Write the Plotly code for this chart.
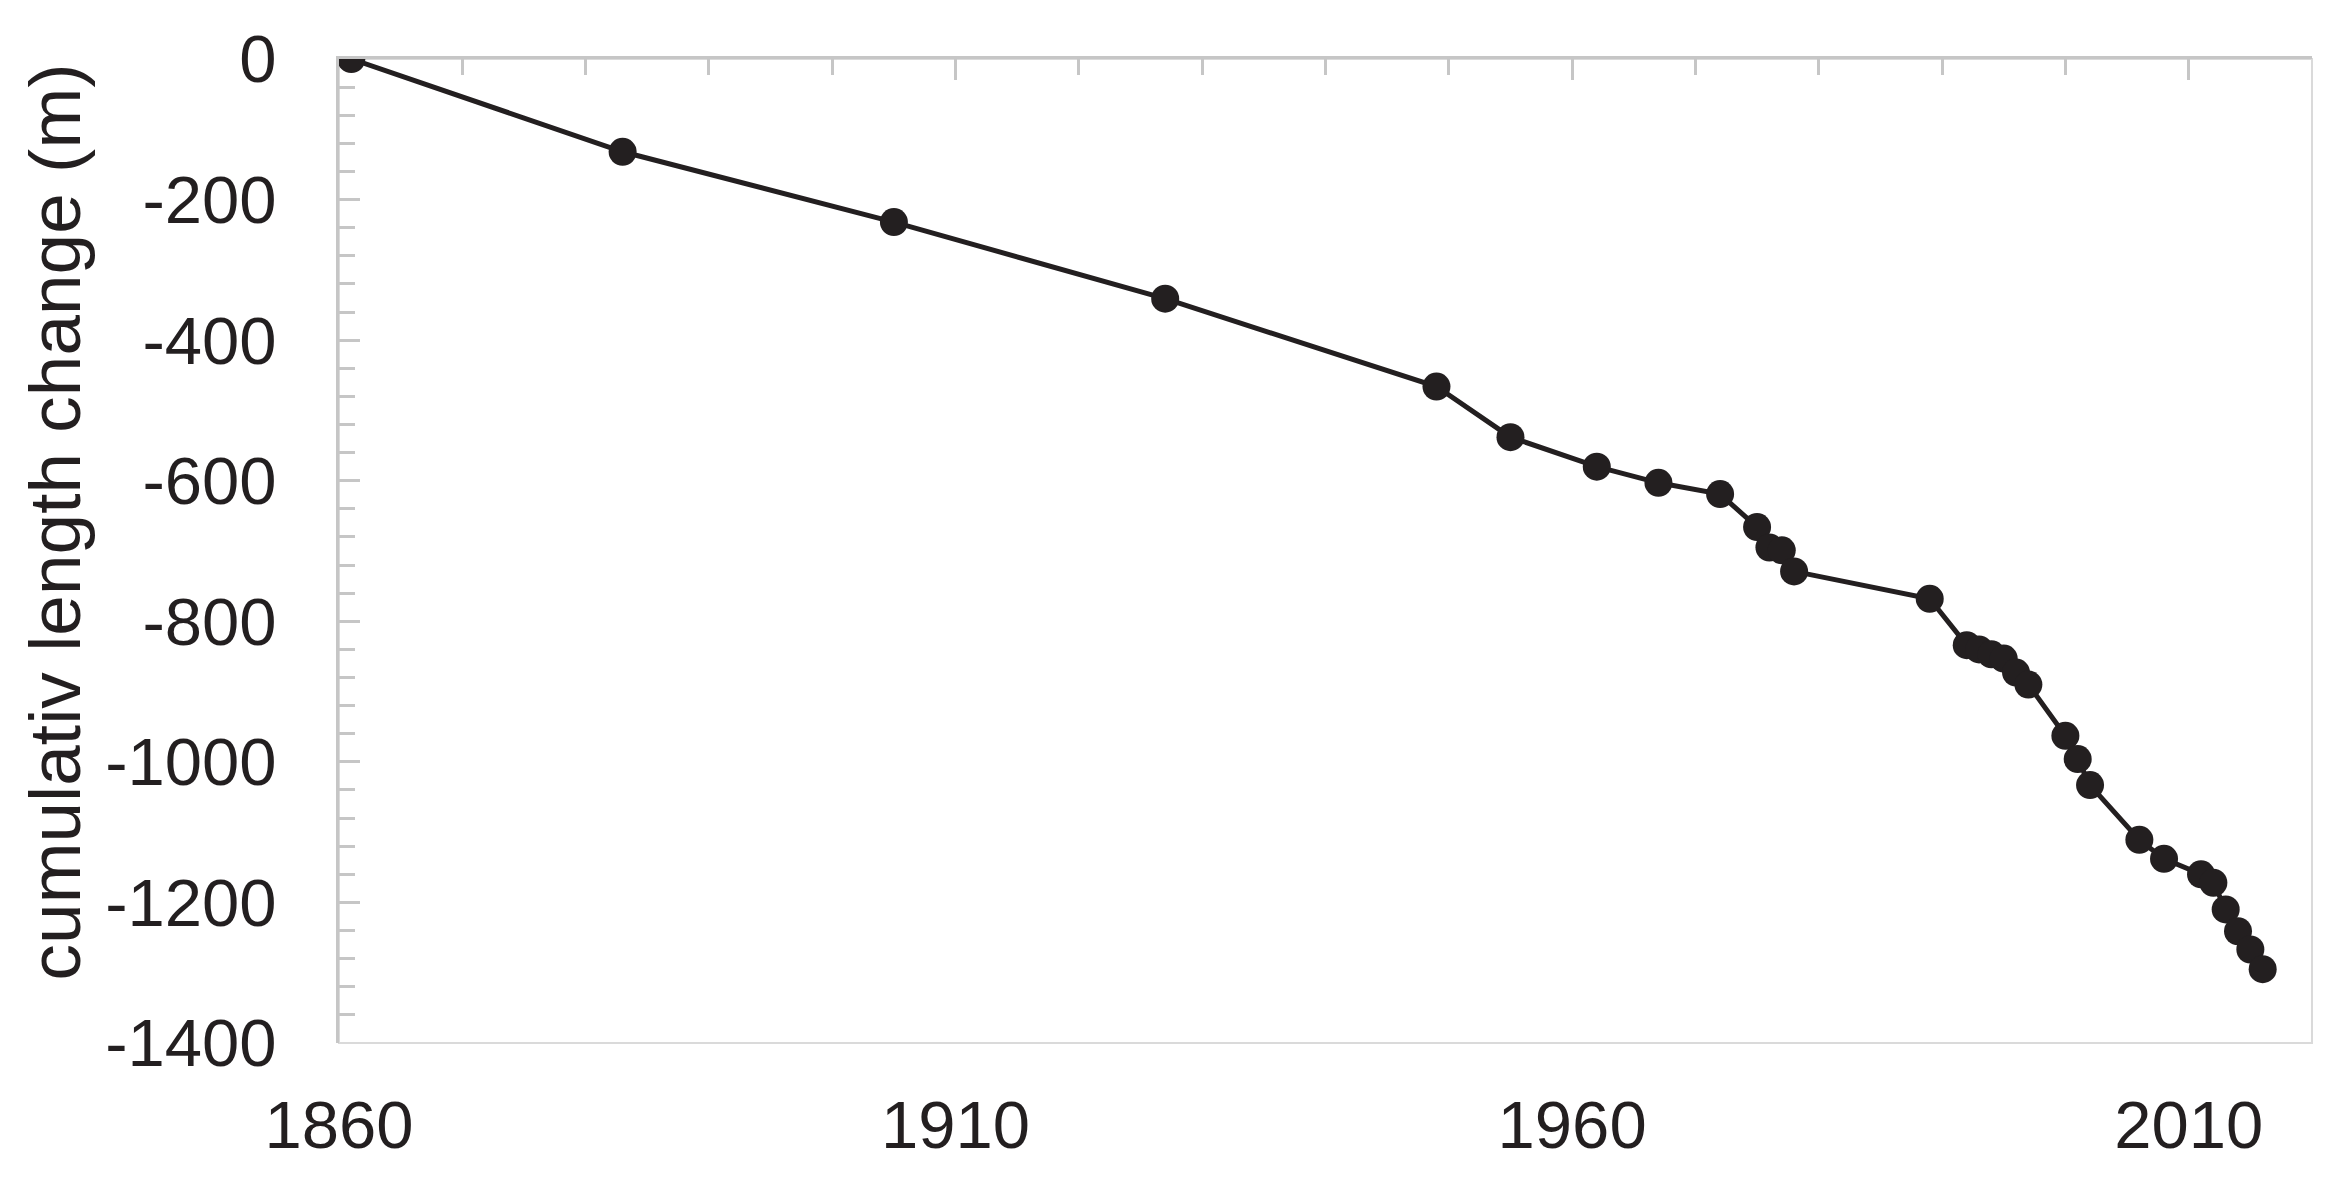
import plotly.graph_objects as go

# glacier front position, cumulative change since first survey
years = [1861, 1883, 1905, 1927, 1949, 1955, 1962, 1967, 1972, 1975, 1976, 1977, 1978,
         1989, 1992, 1993, 1994, 1995, 1996, 1997, 2000, 2001, 2002, 2006, 2008,
         2011, 2012, 2013, 2014, 2015, 2016]
length_change = [0, -132, -232, -341, -466, -538, -580, -603, -619, -666, -695, -699, -729,
                 -768, -834, -840, -847, -853, -873, -890, -963, -996, -1033, -1111, -1138,
                 -1160, -1172, -1210, -1241, -1267, -1295]

x_ticks = [1860, 1910, 1960, 2010]
y_ticks = [0, -200, -400, -600, -800, -1000, -1200, -1400]
y_title = 'cumulativ length change (m)'

ink = '#231f20'
axis_grey = '#c6c6c6'
frame_grey = '#dadada'
font = 'Liberation Sans, Arial, sans-serif'

fig = go.Figure()
fig.add_trace(go.Scatter(
    x=years, y=length_change, mode='lines+markers',
    line=dict(color=ink, width=5),
    marker=dict(color=ink, size=28),
    showlegend=False, hoverinfo='x+y'
))
# same series on the top axis (invisible) so the tick axis gets drawn
fig.add_trace(go.Scatter(
    x=years, y=length_change, xaxis='x2', mode='lines',
    line=dict(width=0), hoverinfo='skip', showlegend=False
))

# light frame on right and bottom of the plot area
fig.add_shape(type='rect', xref='paper', yref='paper', x0=0, x1=1, y0=0, y1=1,
              line=dict(color=frame_grey, width=2), layer='below')

# y title sits a bit above the axis centre in the original, so place it by hand
fig.add_annotation(text=y_title, textangle=-90, xref='paper', yref='paper',
                   x=0, y=0.529, xanchor='center', yanchor='middle', xshift=-285,
                   showarrow=False, font=dict(family=font, size=73, color=ink))

fig.update_layout(
    width=2352, height=1183,
    margin=dict(l=331, r=48, t=51, b=148),
    paper_bgcolor='white', plot_bgcolor='white',
    font=dict(family=font, size=67, color=ink),
    xaxis=dict(
        range=[1860, 2020], tickvals=x_ticks, ticktext=[str(v) for v in x_ticks],
        showgrid=False, zeroline=False, showline=False, ticks='',
        ticklabelstandoff=37, tickfont=dict(size=67, color=ink),
    ),
    xaxis2=dict(
        range=[1860, 2020], overlaying='x', side='top', anchor='y',
        showgrid=False, zeroline=False, showticklabels=False,
        showline=True, linecolor=axis_grey, linewidth=3,
        ticks='inside', tick0=1860, dtick=50, ticklen=21, tickwidth=2.5, tickcolor=axis_grey,
        minor=dict(ticks='inside', dtick=10, tick0=1860, ticklen=16, tickwidth=2.5,
                   tickcolor=axis_grey, showgrid=False),
    ),
    yaxis=dict(
        range=[-1400, 0], tickvals=y_ticks, ticktext=[str(v) for v in y_ticks],
        showgrid=False, zeroline=False,
        showline=True, linecolor=axis_grey, linewidth=3,
        ticks='inside', ticklen=21, tickwidth=2.5, tickcolor=axis_grey,
        minor=dict(ticks='inside', dtick=40, tick0=0, ticklen=16, tickwidth=2.5,
                   tickcolor=axis_grey, showgrid=False),
        ticklabelstandoff=46, tickfont=dict(size=67, color=ink),
    ),
)

fig.write_html('out.html')
